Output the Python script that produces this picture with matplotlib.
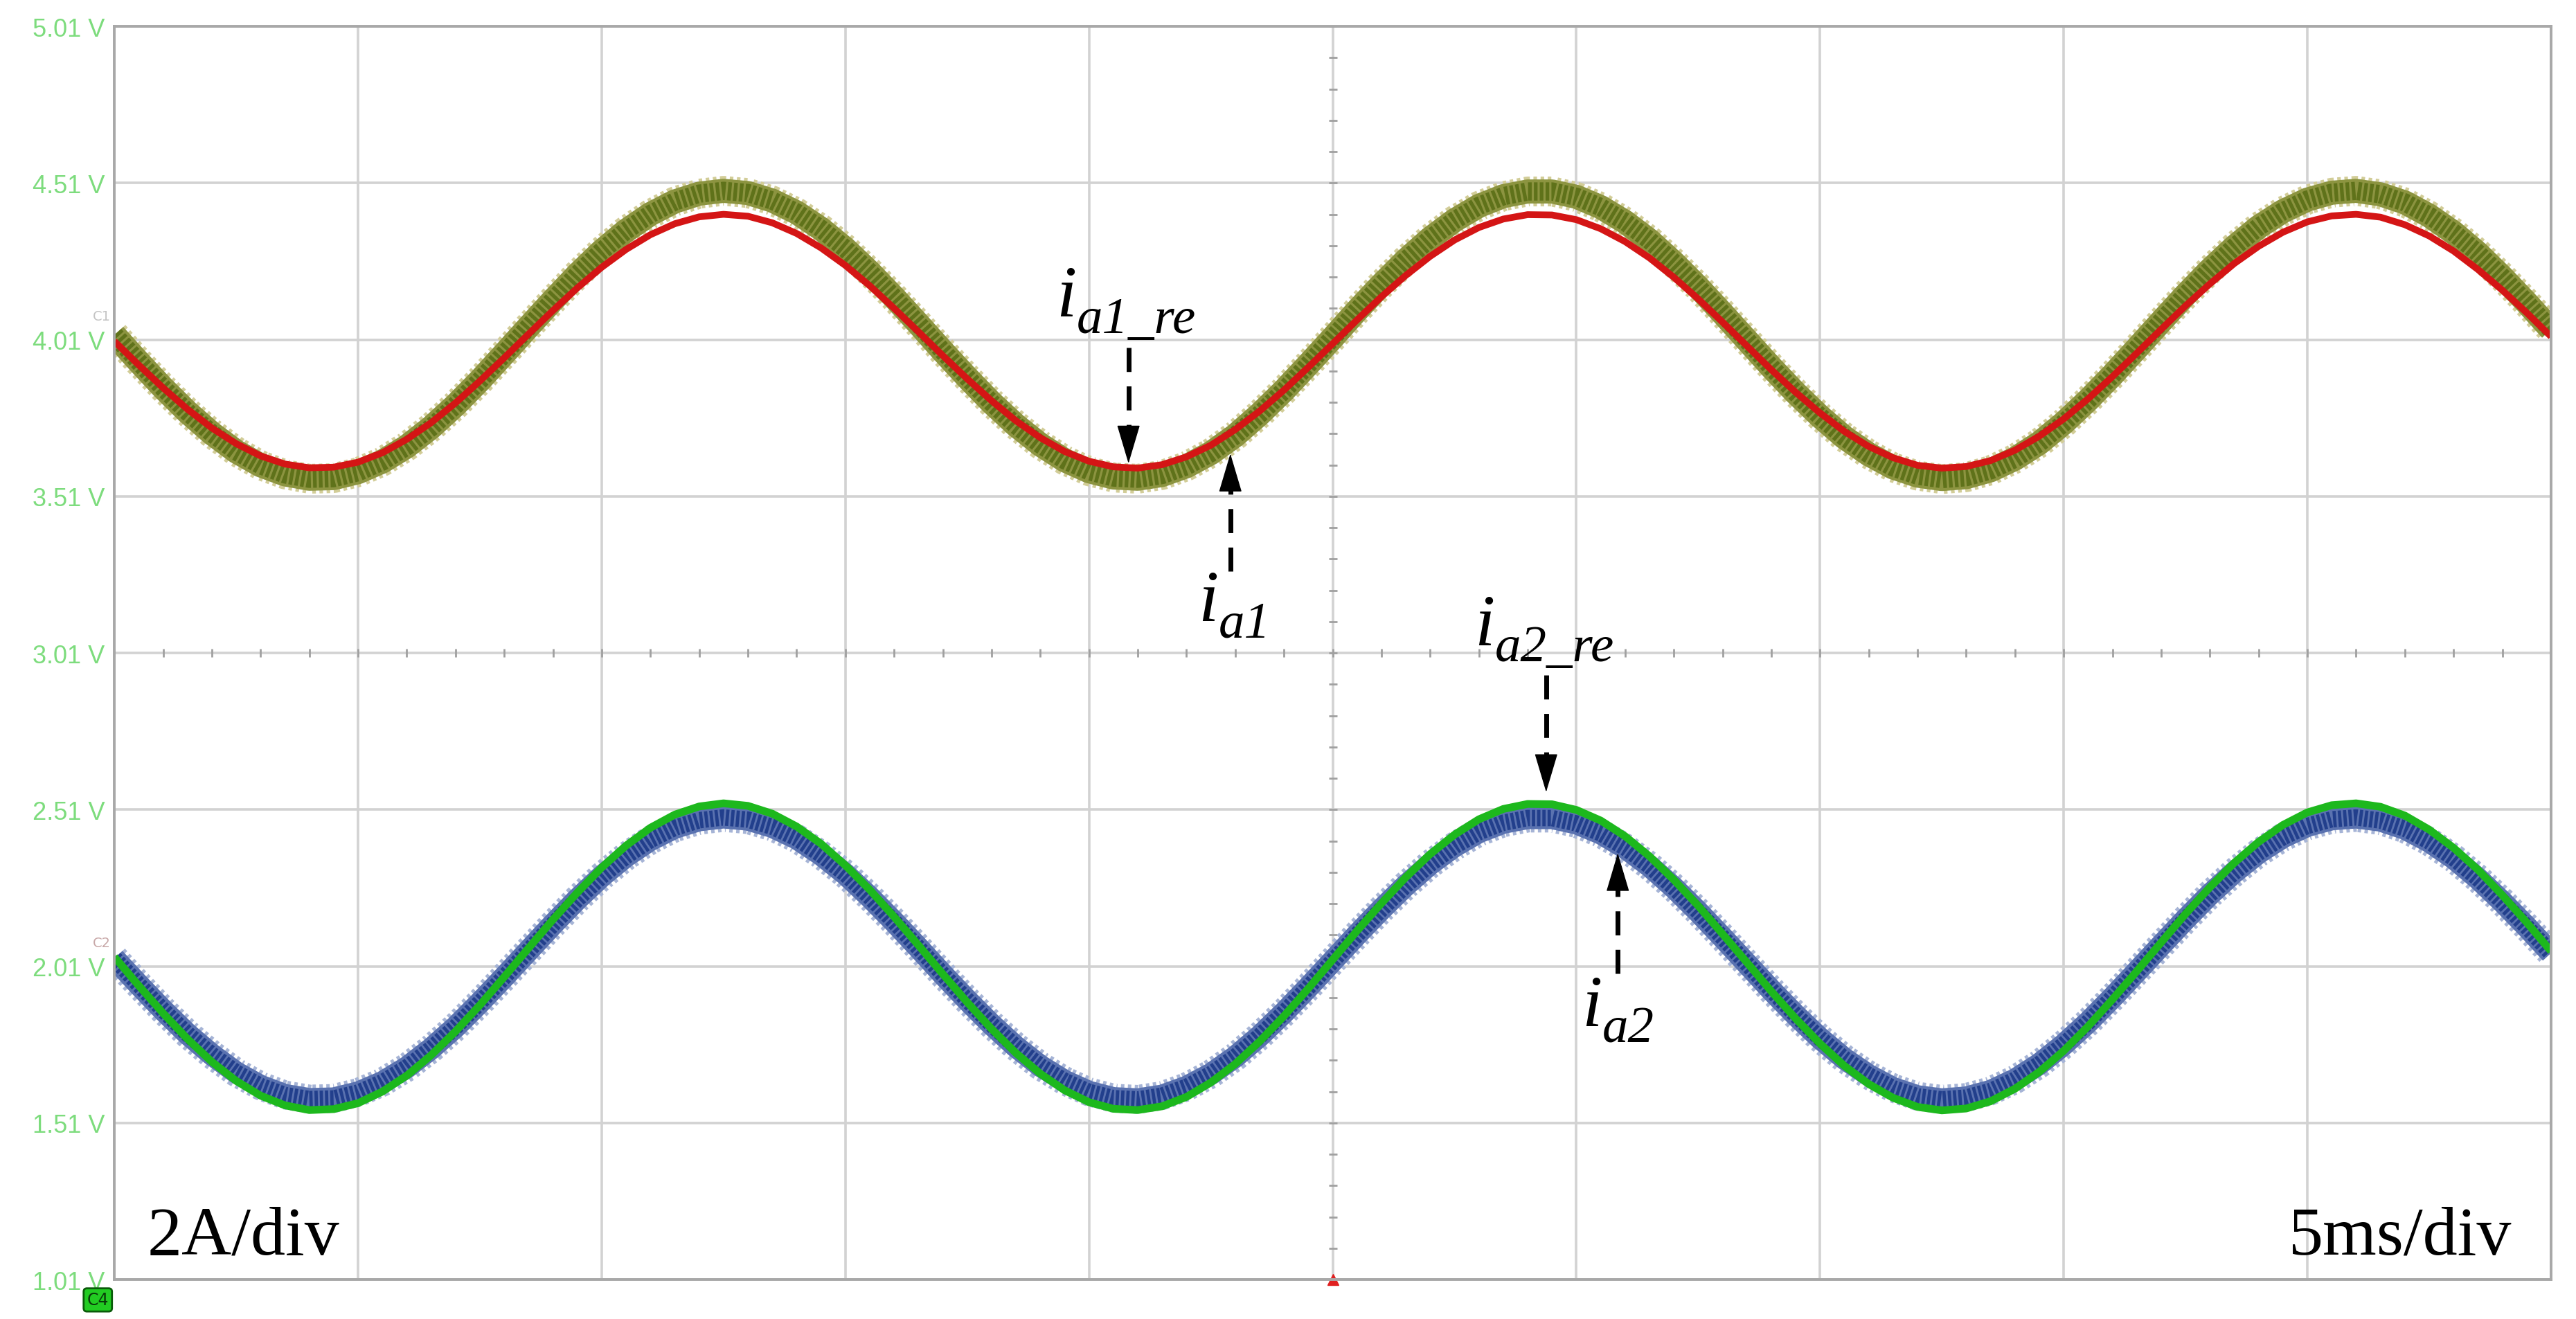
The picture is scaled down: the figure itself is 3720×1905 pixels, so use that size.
import numpy as np
import matplotlib
matplotlib.use("Agg")
import matplotlib.pyplot as plt

# scope readings, one sample every 0.5 ms (5 ms/div, 10 div)
t_ms = np.arange(101) * 0.5

ia1 = [4.025, 3.939, 3.856, 3.779, 3.711, 3.653, 3.609, 3.580, 3.566, 3.568,
       3.587, 3.621, 3.669, 3.730, 3.801, 3.880, 3.965, 4.051, 4.136, 4.218,
       4.293, 4.358, 4.411, 4.451, 4.476, 4.485, 4.478, 4.454, 4.416, 4.364,
       4.300, 4.226, 4.145, 4.060, 3.973, 3.889, 3.809, 3.737, 3.675, 3.625,
       3.590, 3.570, 3.566, 3.578, 3.606, 3.648, 3.704, 3.772, 3.848, 3.931,
       4.016, 4.103, 4.186, 4.264, 4.333, 4.391, 4.437, 4.468, 4.483, 4.483,
       4.466, 4.433, 4.386, 4.327, 4.256, 4.178, 4.094, 4.008, 3.922, 3.840,
       3.765, 3.698, 3.644, 3.602, 3.576, 3.565, 3.571, 3.593, 3.630, 3.680,
       3.744, 3.817, 3.897, 3.982, 4.068, 4.153, 4.233, 4.306, 4.370, 4.420,
       4.457, 4.479, 4.485, 4.474, 4.448, 4.406, 4.352, 4.286, 4.210, 4.128,
       4.042]

ia1_re = [4.005, 3.929, 3.856, 3.788, 3.728, 3.678, 3.639, 3.613, 3.601, 3.603,
          3.619, 3.649, 3.692, 3.745, 3.808, 3.878, 3.952, 4.028, 4.103, 4.175,
          4.241, 4.298, 4.345, 4.380, 4.402, 4.410, 4.404, 4.383, 4.349, 4.303,
          4.247, 4.182, 4.110, 4.035, 3.959, 3.885, 3.815, 3.751, 3.697, 3.653,
          3.622, 3.604, 3.600, 3.611, 3.636, 3.673, 3.723, 3.782, 3.849, 3.922,
          3.997, 4.073, 4.147, 4.215, 4.276, 4.328, 4.368, 4.395, 4.409, 4.408,
          4.393, 4.364, 4.323, 4.271, 4.209, 4.140, 4.066, 3.990, 3.914, 3.842,
          3.776, 3.717, 3.669, 3.633, 3.609, 3.600, 3.605, 3.624, 3.657, 3.702,
          3.757, 3.821, 3.892, 3.967, 4.043, 4.118, 4.188, 4.253, 4.308, 4.353,
          4.386, 4.405, 4.410, 4.401, 4.377, 4.341, 4.293, 4.234, 4.168, 4.096,
          4.020]

ia2_re = [2.040, 1.948, 1.860, 1.778, 1.705, 1.644, 1.597, 1.566, 1.551, 1.554,
          1.573, 1.610, 1.661, 1.726, 1.802, 1.886, 1.976, 2.068, 2.159, 2.245,
          2.325, 2.395, 2.452, 2.494, 2.520, 2.530, 2.522, 2.497, 2.456, 2.401,
          2.332, 2.254, 2.168, 2.077, 1.985, 1.895, 1.810, 1.733, 1.667, 1.614,
          1.576, 1.555, 1.551, 1.563, 1.593, 1.639, 1.698, 1.770, 1.851, 1.939,
          2.031, 2.123, 2.211, 2.294, 2.368, 2.430, 2.479, 2.512, 2.528, 2.527,
          2.509, 2.475, 2.425, 2.361, 2.286, 2.203, 2.113, 2.022, 1.930, 1.843,
          1.763, 1.692, 1.634, 1.590, 1.561, 1.550, 1.556, 1.579, 1.619, 1.673,
          1.740, 1.818, 1.904, 1.994, 2.086, 2.177, 2.262, 2.340, 2.407, 2.461,
          2.501, 2.524, 2.530, 2.519, 2.491, 2.446, 2.388, 2.318, 2.237, 2.150,
          2.058]

ia2 = [2.035, 1.951, 1.870, 1.794, 1.728, 1.671, 1.628, 1.599, 1.586, 1.588,
       1.607, 1.640, 1.687, 1.747, 1.816, 1.894, 1.976, 2.060, 2.144, 2.224,
       2.297, 2.361, 2.413, 2.452, 2.476, 2.485, 2.478, 2.455, 2.418, 2.366,
       2.304, 2.231, 2.152, 2.069, 1.984, 1.902, 1.824, 1.753, 1.692, 1.644,
       1.609, 1.589, 1.585, 1.597, 1.625, 1.666, 1.721, 1.787, 1.862, 1.943,
       2.027, 2.111, 2.192, 2.268, 2.336, 2.393, 2.438, 2.468, 2.483, 2.483,
       2.466, 2.434, 2.388, 2.330, 2.261, 2.184, 2.102, 2.018, 1.934, 1.854,
       1.780, 1.715, 1.662, 1.621, 1.595, 1.585, 1.591, 1.612, 1.648, 1.698,
       1.760, 1.831, 1.910, 1.993, 2.077, 2.160, 2.239, 2.310, 2.372, 2.422,
       2.458, 2.479, 2.485, 2.475, 2.449, 2.408, 2.355, 2.290, 2.216, 2.136,
       2.052]

volt_ticks = [1.01, 1.51, 2.01, 2.51, 3.01, 3.51, 4.01, 4.51, 5.01]
volt_labels = ["1.01 V", "1.51 V", "2.01 V", "2.51 V", "3.01 V",
               "3.51 V", "4.01 V", "4.51 V", "5.01 V"]

fig = plt.figure(figsize=(37.2, 19.06), dpi=100)
ax = fig.add_axes([0.0444, 0.0299, 0.9459, 0.9496])
ax.set_xlim(0, 50)
ax.set_ylim(1.01, 5.01)

# grid, one line per division
ax.set_xticks(np.arange(0, 51, 5))
ax.set_yticks(volt_ticks)
ax.set_yticklabels(volt_labels, color="#7ddc7d", fontsize=26, family="Liberation Sans")
ax.tick_params(axis="x", length=0, labelbottom=False)
ax.tick_params(axis="y", length=0, pad=10)
ax.grid(True, color="#d2d2d2", lw=2.6)
for s in ax.spines.values():
    s.set_color("#a8a8a8")
    s.set_linewidth(2.8)

# small ticks along the centre lines
minor_t = np.arange(0, 50.1, 1.0)
minor_v = np.arange(1.01, 5.02, 0.1)
ax.plot(minor_t, [3.01] * len(minor_t), ls="none", marker="|", ms=9, mew=2, color="#a0a0a0")
ax.plot([25] * len(minor_v), minor_v, ls="none", marker="_", ms=9, mew=2, color="#a0a0a0")

# upper pair: i_a1 (olive, noisy band) and i_a1_re (red)
ax.plot(t_ms, ia1, color="#d2cd98", lw=31, ls=(0, (0.12, 0.12)), solid_capstyle="butt")
ax.plot(t_ms, ia1, color="#8c9440", lw=25, solid_capstyle="butt")
ax.plot(t_ms, ia1, color="#5f721a", lw=19, ls=(0, (0.2, 0.12)), solid_capstyle="butt")
ax.plot(t_ms, ia1_re, color="#d41515", lw=7, solid_capstyle="butt")

# lower pair: i_a2 (blue, noisy band) and i_a2_re (green)
ax.plot(t_ms, ia2, color="#a6b4d6", lw=30, ls=(0, (0.12, 0.12)), solid_capstyle="butt")
ax.plot(t_ms, ia2, color="#5a72b0", lw=23, solid_capstyle="butt")
ax.plot(t_ms, ia2, color="#223f8c", lw=17, ls=(0, (0.2, 0.12)), solid_capstyle="butt")
ax.plot(t_ms, ia2_re, color="#1db81d", lw=8, solid_capstyle="butt")


def arrow(x, tail, tip):
    head = 0.115 if tip < tail else -0.115
    ax.plot([x, x], [tail, tip + head], color="k", lw=5, ls=(0, (5, 3)), solid_capstyle="butt")
    ax.annotate("", xy=(x, tip), xytext=(x, tip + head),
                arrowprops=dict(arrowstyle="-|>,head_length=3.7,head_width=1.1",
                                color="k", lw=1, shrinkA=0, shrinkB=0))


def label(x, y, sub):
    ax.text(x, y, "i", fontsize=76, family="Liberation Serif", style="italic",
            ha="left", va="baseline")
    ax.annotate(sub, (x, y), xytext=(21, -17), textcoords="offset points",
                fontsize=54, family="Liberation Serif", style="italic",
                ha="left", va="baseline")


arrow(20.81, 3.985, 3.615)
label(19.33, 4.086, "a1_re")
arrow(22.90, 3.271, 3.646)
label(22.24, 3.114, "a1")
arrow(29.38, 2.939, 2.566)
label(27.91, 3.037, "a2_re")
arrow(30.85, 1.987, 2.371)
label(30.11, 1.821, "a2")

ax.text(0.68, 1.092, "2A/div", fontsize=72, family="Liberation Serif", ha="left", va="baseline")
ax.text(49.19, 1.092, "5ms/div", fontsize=72, family="Liberation Serif", ha="right", va="baseline")

# channel markers on the left edge and trigger mark at the bottom
ax.text(-0.08, 4.085, "C1", fontsize=14, color="#c4c4c4", ha="right", va="center", clip_on=False)
ax.text(-0.08, 2.085, "C2", fontsize=14, color="#c8a8a8", ha="right", va="center", clip_on=False)
ax.text(-0.34, 0.945, "C4", fontsize=17, color="#0a3a0a", ha="center", va="center", clip_on=False,
        bbox=dict(boxstyle="round,pad=0.2", fc="#22cc22", ec="#0a5a0a", lw=2))
ax.plot([25], [1.01], marker="^", ms=12, color="#e02020", clip_on=False)

fig.savefig("out.png", dpi=100)
